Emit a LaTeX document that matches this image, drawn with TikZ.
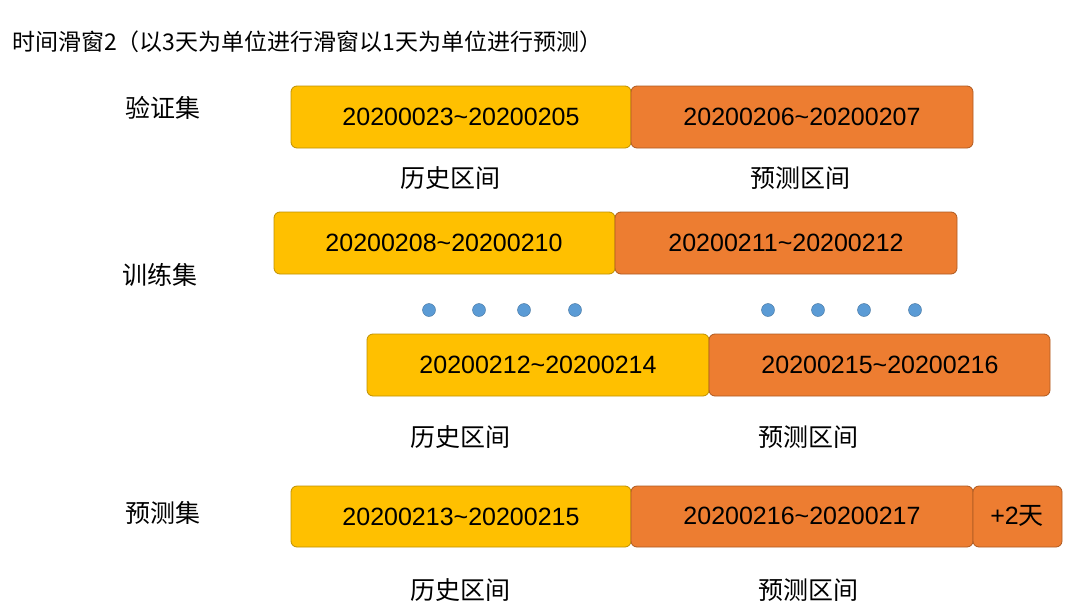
\documentclass[tikz,border=0pt]{standalone}
\usepackage{fontspec}
\setmainfont{Liberation Sans}
\newfontfamily\cjk{Noto Sans CJK SC}
\definecolor{ylw}{HTML}{FFC000}
\definecolor{ylwb}{HTML}{BF9000}
\definecolor{org}{HTML}{ED7D31}
\definecolor{orgb}{HTML}{AE5A21}
\definecolor{dotc}{HTML}{5B9BD5}
\definecolor{dotb}{HTML}{41719C}
\begin{document}
\begin{tikzpicture}[x=1pt,y=-1pt,
  yb/.style={draw=ylwb,fill=ylw,rounded corners=6pt,line width=0.8pt},
  ob/.style={draw=orgb,fill=org,rounded corners=6pt,line width=0.8pt},
  bt/.style={font=\fontsize{25}{28}\selectfont},
  lb/.style={font=\cjk\fontsize{25}{28}\selectfont},
  dt/.style={circle,draw=dotb,fill=dotc,minimum size=13pt,inner sep=0pt}]
\useasboundingbox (0,0) rectangle (1070,610);
\node[anchor=west,font=\cjk\fontsize{23}{26}\selectfont,inner sep=0pt] (title) at (12,42) {时间滑窗2（以3天为单位进行滑窗以1天为单位进行预测）};
\node[lb] (l1) at (163,108) {验证集};
\node[lb] (l2) at (160,275) {训练集};
\node[lb] (l3) at (163,513) {预测集};
% row1
\draw[yb] (291,86) rectangle (631,148); \node[bt] (a1) at (461,117) {20200023\textasciitilde20200205};
\draw[ob] (631,86) rectangle (973,148); \node[bt] (b1) at (802,117) {20200206\textasciitilde20200207};
\node[lb] (h1) at (450,178) {历史区间};
\node[lb] (p1) at (800,178) {预测区间};
% row2
\draw[yb] (274,212) rectangle (615,274); \node[bt] (a2) at (444,243) {20200208\textasciitilde20200210};
\draw[ob] (615,212) rectangle (957,274); \node[bt] (b2) at (786,243) {20200211\textasciitilde20200212};
% dots
\foreach \x [count=\i] in {429,479,524,575,768,818,864,915} \node[dt] (d\i) at (\x,310) {};
% row3
\draw[yb] (367,334) rectangle (709,396); \node[bt] (a3) at (538,365) {20200212\textasciitilde20200214};
\draw[ob] (709,334) rectangle (1050,396); \node[bt] (b3) at (880,365) {20200215\textasciitilde20200216};
\node[lb] (h3) at (460,437) {历史区间};
\node[lb] (p3) at (808,437) {预测区间};
% row4
\draw[yb] (291,486) rectangle (631,547); \node[bt] (a4) at (461,517) {20200213\textasciitilde20200215};
\draw[ob] (631,486) rectangle (973,547); \node[bt] (b4) at (802,516) {20200216\textasciitilde20200217};
\draw[ob] (973,486) rectangle (1062,547); \node[bt] (c4) at (1017,516) {+2{\cjk 天}};
\node[lb] (h4) at (460,590) {历史区间};
\node[lb] (p4) at (808,590) {预测区间};
\end{tikzpicture}
\end{document}
